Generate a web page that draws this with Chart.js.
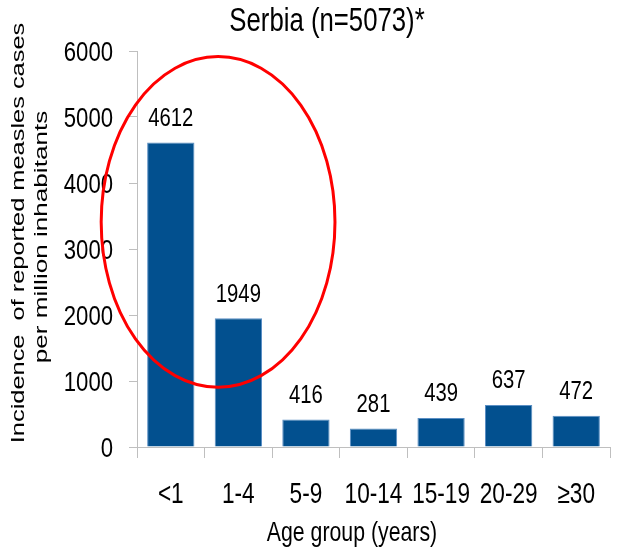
<!DOCTYPE html>
<html>
<head>
<meta charset="utf-8">
<script src="https://cdn.jsdelivr.net/npm/chart.js@4"></script>
<style>
  html, body { margin: 0; padding: 0; background: #fff; }
  #wrap { width: 629px; height: 549px; position: relative; }
</style>
</head>
<body>
<div id="wrap"><canvas id="chartCanvas"></canvas></div>
<script>
// data
const ageGroups = ["<1", "1-4", "5-9", "10-14", "15-19", "20-29", "\u226530"];
const incidence = [4612, 1949, 416, 281, 439, 637, 472];
const yTicks = [0, 1000, 2000, 3000, 4000, 5000, 6000];

const chartTitle = "Serbia (n=5073)*";
const xTitle = "Age group (years)";
const yTitle = ["Incidence  of reported measles cases", "per million inhabitants"];

// red highlight round the first two groups (category index / value units)
const highlight = { x: 0.7, y: 3410, rx: 1.73, ry: 2505 };

const SANS = "'Liberation Sans', Arial, sans-serif";
const AXIS = "#bfbfbf";

// draws text squeezed horizontally (the picture uses a narrow font)
function txt(ctx, s, x, y, size, sx, align) {
  ctx.save();
  ctx.translate(x, y);
  ctx.scale(sx, 1);
  ctx.font = size + "px " + SANS;
  ctx.textAlign = align || "center";
  ctx.textBaseline = "alphabetic";
  ctx.fillText(s, 0, 0);
  ctx.restore();
}

const extras = {
  id: "extras",
  afterDatasetsDraw(chart) {
    const ctx = chart.ctx;
    const xs = chart.scales.x, ys = chart.scales.y;
    ctx.save();
    ctx.fillStyle = "#000";

    // y tick labels
    yTicks.forEach((v) => {
      txt(ctx, String(v), 113, ys.getPixelForValue(v) + 0.358 * 28, 28, 0.79, "right");
    });

    // x tick labels
    ageGroups.forEach((g, i) => {
      txt(ctx, g, xs.getPixelForValue(i), 492.5 + 0.358 * 29, 29, 0.78);
    });

    // value labels above the bars
    chart.getDatasetMeta(0).data.forEach((bar, i) => {
      txt(ctx, String(incidence[i]), bar.x, bar.y - 26 + 0.358 * 26, 26, 0.78);
    });

    // titles
    txt(ctx, chartTitle, 327, 31, 33, 0.78);
    txt(ctx, xTitle, 352, 541, 28, 0.76);

    // y-axis title (stretched along its length like the picture)
    ctx.font = "18px " + SANS;
    ctx.textAlign = "center";
    ctx.textBaseline = "middle";
    const cy = (ys.top + ys.bottom) / 2 - 16;
    [[19, 0, 1.41], [42, 4, 1.45]].forEach(([lx, dy, st], i) => {
      ctx.save();
      ctx.translate(lx, cy + dy);
      ctx.rotate(-Math.PI / 2);
      ctx.scale(st, 1);
      ctx.fillText(yTitle[i], 0, 0);
      ctx.restore();
    });

    // ellipse
    const cx = xs.getPixelForValue(highlight.x);
    const cyE = ys.getPixelForValue(highlight.y);
    const rx = Math.abs(xs.getPixelForValue(highlight.x + highlight.rx) - cx);
    const ry = Math.abs(ys.getPixelForValue(highlight.y + highlight.ry) - cyE);
    ctx.beginPath();
    ctx.ellipse(cx, cyE, rx, ry, 0, 0, Math.PI * 2);
    ctx.strokeStyle = "#ff0000";
    ctx.lineWidth = 3;
    ctx.stroke();
    ctx.restore();
  }
};

new Chart(document.getElementById("chartCanvas"), {
  type: "bar",
  data: {
    labels: ageGroups,
    datasets: [{
      data: incidence,
      backgroundColor: "#02508f",
      borderColor: "#5b8fc4",
      borderWidth: 1,
      barPercentage: 0.7,
      categoryPercentage: 1.0
    }]
  },
  options: {
    responsive: true,
    maintainAspectRatio: false,
    animation: false,
    layout: { padding: { left: 0, top: 51, right: 19, bottom: 0 } },
    plugins: { legend: { display: false }, tooltip: { enabled: false } },
    scales: {
      x: {
        grid: { drawOnChartArea: false, tickLength: 11, color: AXIS },
        border: { color: AXIS },
        ticks: { display: false },
        afterFit: (s) => { s.height = 102; }
      },
      y: {
        min: 0,
        max: 6000,
        grid: { drawOnChartArea: false, tickLength: 8, color: AXIS },
        border: { color: AXIS },
        afterBuildTicks: (s) => { s.ticks = yTicks.map((v) => ({ value: v })); },
        ticks: { display: false },
        afterFit: (s) => { s.width = 137; }
      }
    }
  },
  plugins: [extras]
});
</script>
</body>
</html>
